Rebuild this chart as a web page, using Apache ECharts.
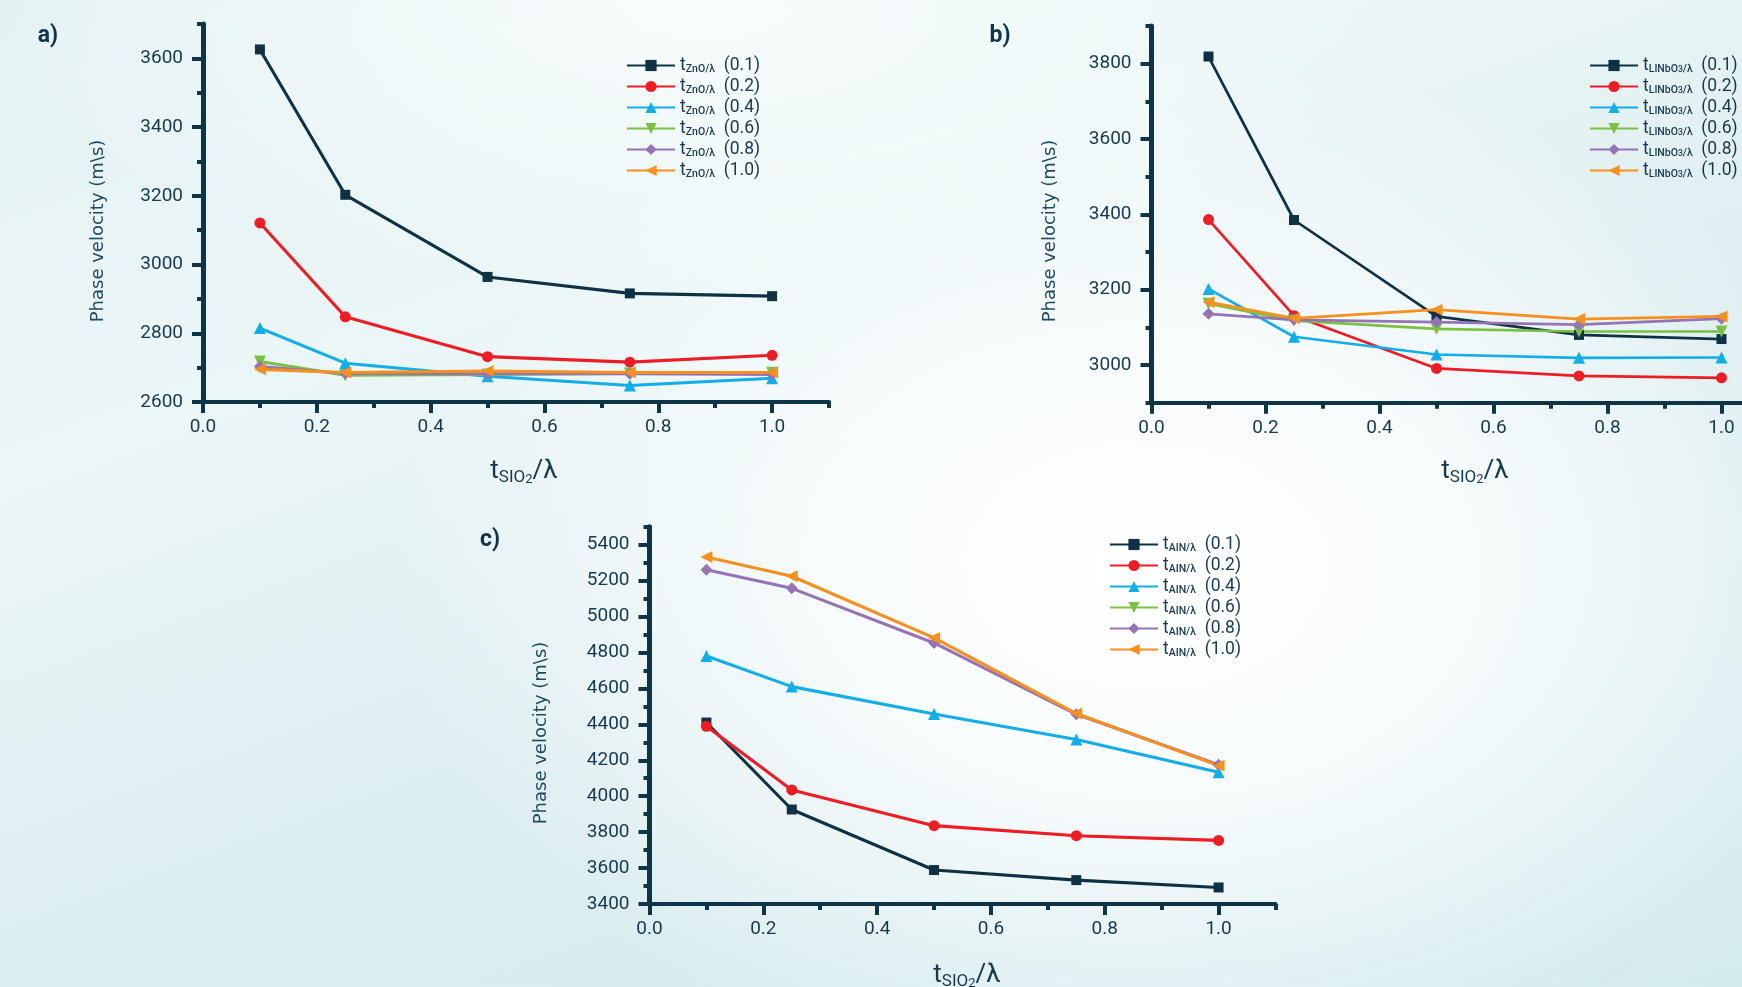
<!DOCTYPE html>
<html><head><meta charset="utf-8">
<script src="https://cdn.jsdelivr.net/npm/echarts@6/dist/echarts.min.js"></script>
<style>
html,body{margin:0;padding:0;width:1742px;height:987px;overflow:hidden;}
body{background:
 radial-gradient(ellipse 760px 520px at 66% 58%, #ffffff 0%, rgba(252,254,254,0.92) 38%, rgba(255,255,255,0) 100%),
 radial-gradient(ellipse 700px 300px at 40% 0%, rgba(250,253,253,0.9) 0%, rgba(255,255,255,0) 100%),
 linear-gradient(160deg, #e4f2f3 0%, #ebf6f7 30%, #dcedf0 60%, #d4ebee 100%);}
#chart{width:1742px;height:987px;}
</style></head><body><div id="chart"></div>
<script>
// ---------- data ----------
const tSio2 = [0.1, 0.25, 0.5, 0.75, 1.0];
const layerLabels = ['0.1', '0.2', '0.4', '0.6', '0.8', '1.0'];
const xTickLabels = [0, 0.2, 0.4, 0.6, 0.8, 1.0];
const xMinorTicks = [0.1, 0.3, 0.5, 0.7, 0.9, 1.1];
const znoYTicks = [2600, 2800, 3000, 3200, 3400, 3600];
const linbo3YTicks = [3000, 3200, 3400, 3600, 3800];
const alnYTicks = [3400, 3600, 3800, 4000, 4200, 4400, 4600, 4800, 5000, 5200, 5400];

// a) ZnO
const zno01 = [3626, 3203, 2964, 2916, 2908];
const zno02 = [3121, 2848, 2732, 2716, 2736];
const zno04 = [2815, 2713, 2675, 2648, 2669];
const zno06 = [2718, 2678, 2680, 2683, 2685];
const zno08 = [2703, 2683, 2682, 2682, 2680];
const zno10 = [2695, 2686, 2690, 2686, 2686];
// b) LiNbO3
const linbo01 = [3819, 3385, 3129, 3080, 3069];
const linbo02 = [3386, 3131, 2991, 2971, 2966];
const linbo04 = [3202, 3075, 3028, 3019, 3020];
const linbo06 = [3163, 3118, 3096, 3089, 3089];
const linbo08 = [3136, 3120, 3114, 3107, 3123];
const linbo10 = [3167, 3124, 3147, 3122, 3129];
// c) AlN (0.6 curve not visible in the figure)
const aln01 = [4410, 3926, 3589, 3533, 3492];
const aln02 = [4389, 4035, 3836, 3780, 3754];
const aln04 = [4780, 4610, 4458, 4316, 4133];
const aln06 = [];
const aln08 = [5260, 5157, 4853, 4456, 4175];
const aln10 = [5331, 5224, 4881, 4460, 4170];

// ---------- styling ----------
const INK = '#0d3447';
const TXT = '#17394b';
const colors = ['#0e3244', '#ee1c25', '#13ade8', '#7ac143', '#9673b5', '#f7901e'];
const symbols = ['rect', 'circle', 'triangle', 'triangle', 'diamond', 'triangle'];
const symRot = [0, 0, 0, 180, 0, 90];
const symSize = [10, 11, 12, 12, 12, 12];

const panels = [
  {key: 'a', sub: '{s|ZnO/λ}', values: [zno01, zno02, zno04, zno06, zno08, zno10],
   yTicks: znoYTicks, yMin: 2600, yMax: 3700,
   grid: {left: 203, top: 24, width: 626, height: 378}, legend: {left: 626, top: 56.5},
   label: [48, 36], yTitle: [98, 231], xTitle: [524, 471], lw: 3.1},
  {key: 'b', sub: '{s|LINbO}{n|3}{s|/λ}', values: [linbo01, linbo02, linbo04, linbo06, linbo08, linbo10],
   yTicks: linbo3YTicks, yMin: 2900, yMax: 3900,
   grid: {left: 1151.5, top: 26, width: 627, height: 376.7}, legend: {left: 1589, top: 56.5},
   label: [1000, 36], yTitle: [1050, 231], xTitle: [1475, 471], lw: 2.7},
  {key: 'c', sub: '{s|AIN/λ}', values: [aln01, aln02, aln04, aln06, aln08, aln10],
   yTicks: alnYTicks, yMin: 3400, yMax: 5500,
   grid: {left: 649.5, top: 526.7, width: 626, height: 377.3}, legend: {left: 1109, top: 535.5},
   label: [490, 540], yTitle: [541, 733], xTitle: [967, 975], lw: 3.1}
];

const grids = [], xAxes = [], yAxes = [], series = [], legends = [], graphics = [];
const richLegend = {
  t: {fontSize: 17.5, fontFamily: 'Roboto', color: TXT, lineHeight: 18},
  s: {fontSize: 10.5, fontFamily: 'Roboto', fontWeight: 500, color: TXT, lineHeight: 11, verticalAlign: 'bottom'},
  n: {fontSize: 8.5, fontFamily: 'Roboto', fontWeight: 500, color: TXT, lineHeight: 8, verticalAlign: 'bottom'},
  v: {fontSize: 17.5, fontFamily: 'Roboto', color: TXT, lineHeight: 18}
};

panels.forEach((p, i) => {
  grids.push(Object.assign({containLabel: false, outerBoundsMode: 'none'}, p.grid));
  const labelStyle = {color: TXT, fontFamily: 'Roboto', fontSize: 19};
  xAxes.push({
    gridIndex: i, type: 'value', min: 0, max: 1.1, interval: 0.1, position: 'bottom',
    axisLine: {show: true, onZero: false, lineStyle: {color: INK, width: 4}},
    axisTick: {show: true, customValues: xTickLabels, length: 11, lineStyle: {color: INK, width: 4}},
    axisLabel: Object.assign({customValues: xTickLabels, margin: 16, formatter: v => v.toFixed(1)}, labelStyle),
    splitLine: {show: false}
  });
  xAxes.push({
    gridIndex: i, type: 'value', min: 0, max: 1.1, interval: 0.1, position: 'bottom',
    axisLine: {show: false, onZero: false},
    axisTick: {show: true, customValues: xMinorTicks, length: 6, lineStyle: {color: INK, width: 4}},
    axisLabel: {show: false}, splitLine: {show: false}
  });
  yAxes.push({
    gridIndex: i, type: 'value', min: p.yMin, max: p.yMax, interval: 100, position: 'left',
    axisLine: {show: true, onZero: false, lineStyle: {color: INK, width: 5}},
    axisTick: {show: true, customValues: p.yTicks, length: 11, lineStyle: {color: INK, width: 4}},
    axisLabel: Object.assign({customValues: p.yTicks, margin: 20, formatter: v => String(v)}, labelStyle),
    splitLine: {show: false}
  });
  yAxes.push({
    gridIndex: i, type: 'value', min: p.yMin, max: p.yMax, interval: 100, position: 'left',
    axisLine: {show: false, onZero: false},
    axisTick: {show: true, length: 6, lineStyle: {color: INK, width: 4}},
    axisLabel: {show: false}, splitLine: {show: false}
  });
  const names = [];
  const fmt = {};
  p.values.forEach((vals, j) => {
    const name = p.key + '-' + layerLabels[j];
    names.push(name);
    fmt[name] = '{t|t}' + p.sub + '{v|  (' + layerLabels[j] + ')}';
    series.push({
      type: 'line', name: name, xAxisIndex: 2 * i, yAxisIndex: 2 * i,
      data: vals.map((v, k) => [tSio2[k], v]),
      symbol: symbols[j], symbolSize: symSize[j], symbolRotate: symRot[j],
      showAllSymbol: true,
      lineStyle: {color: colors[j], width: p.lw},
      itemStyle: {color: colors[j]},
      emphasis: {disabled: true}, silent: true
    });
  });
  legends.push({
    orient: 'vertical', left: p.legend.left, top: p.legend.top, padding: 0,
    itemWidth: 48, itemHeight: 14, itemGap: 3.0, textStyle: {rich: richLegend, color: TXT},
    selectedMode: false, data: names, formatter: n => fmt[n], symbolRotate: 'inherit'
  });
  graphics.push({
    type: 'text', x: p.label[0], y: p.label[1], silent: true,
    style: {text: p.key + ')', font: 'bold 23px Roboto', fill: INK, align: 'center', verticalAlign: 'middle', textAlign: 'center', textVerticalAlign: 'middle'}
  });
  graphics.push({
    type: 'text', x: p.yTitle[0], y: p.yTitle[1], rotation: Math.PI / 2, silent: true,
    style: {text: 'Phase velocity (m\\s)', font: '18px "DejaVu Sans"', fill: '#1f4a5d', align: 'center', verticalAlign: 'middle', textAlign: 'center', textVerticalAlign: 'middle'}
  });
  graphics.push({
    type: 'text', x: p.xTitle[0], y: p.xTitle[1], silent: true,
    style: {
      text: '{t|t}{s|SIO}{n|2}{t|/λ}', align: 'center', verticalAlign: 'middle', textAlign: 'center', textVerticalAlign: 'middle',
      rich: {
        t: {fontSize: 26, fontFamily: 'Roboto', fill: TXT, color: TXT, lineHeight: 30},
        s: {fontSize: 17, fontFamily: 'Roboto', fill: TXT, color: TXT, lineHeight: 16, verticalAlign: 'bottom'},
        n: {fontSize: 13, fontFamily: 'Roboto', fill: TXT, color: TXT, lineHeight: 10, verticalAlign: 'bottom'}
      }
    }
  });
});

const chart = echarts.init(document.getElementById('chart'), null, {renderer: 'canvas'});
chart.setOption({
  backgroundColor: 'transparent', animation: false,
  grid: grids, xAxis: xAxes, yAxis: yAxes, legend: legends, series: series, graphic: graphics
});
</script></body></html>
